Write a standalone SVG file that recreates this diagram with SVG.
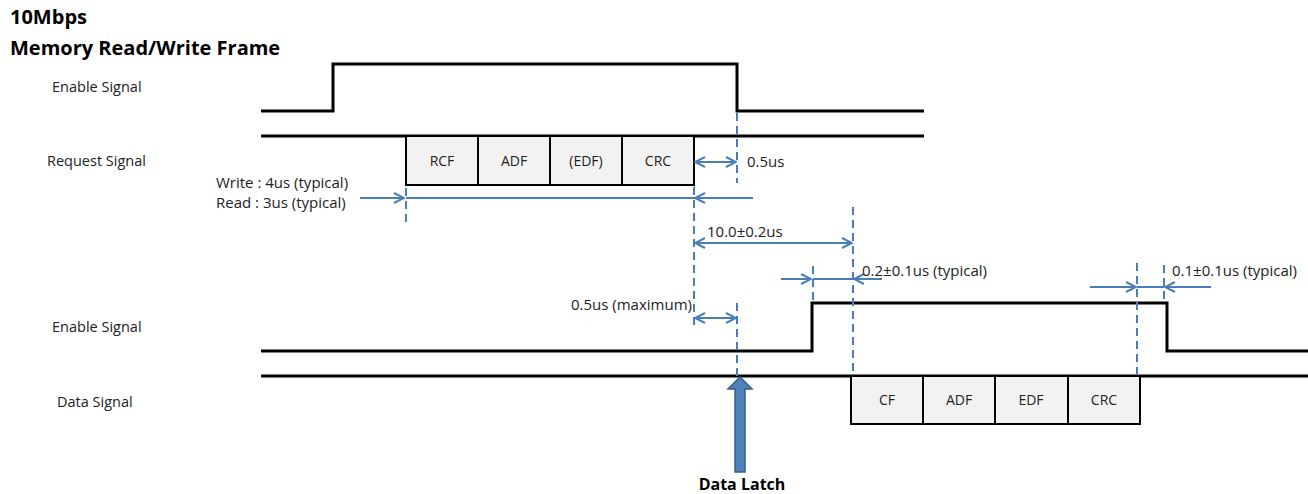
<svg xmlns="http://www.w3.org/2000/svg" width="1308" height="494" viewBox="0 0 1308 494">
<style>
.sig{fill:none;stroke:#000;stroke-width:3}
.box{fill:#f2f2f2;stroke:#000;stroke-width:2}
.dash{fill:none;stroke:#4a7ebb;stroke-width:2;stroke-dasharray:8 5}
.dim{fill:none;stroke:#4a7ebb;stroke-width:2}
.lbl{font-family:"Open Sans","Liberation Sans",sans-serif;font-size:14.5px;fill:#222}
.ann{font-family:"Open Sans","Liberation Sans",sans-serif;font-size:15px;fill:#222}
.bt{font-family:"Open Sans","Liberation Sans",sans-serif;font-size:14px;fill:#222;text-anchor:middle}
.ttl{font-family:"Open Sans","Liberation Sans",sans-serif;font-size:20px;font-weight:bold;fill:#000}
</style>
<defs>
<marker id="ah" viewBox="0 0 12 12" refX="11" refY="6" markerWidth="12" markerHeight="12" markerUnits="userSpaceOnUse" orient="auto-start-reverse">
<polyline points="1,1 11,6 1,11" fill="none" stroke="#4a7ebb" stroke-width="2"/>
</marker>
</defs>
<g id="titles">
<text class="ttl" x="10" y="24">10Mbps</text>
<text class="ttl" x="10" y="55">Memory Read/Write Frame</text>
</g>
<g id="labels">
<text class="lbl" x="52" y="92">Enable Signal</text>
<text class="lbl" x="47" y="166">Request Signal</text>
<text class="lbl" x="52" y="332">Enable Signal</text>
<text class="lbl" x="57" y="407">Data Signal</text>
</g>
<g id="enable1"><polyline class="sig" points="261,111 333,111 333,64 737,64 737,111 924,111"/></g>
<g id="request">
<line class="sig" x1="261" y1="136" x2="924" y2="136"/>
<rect class="box" x="406" y="136" width="72" height="49"/>
<rect class="box" x="478" y="136" width="72" height="49"/>
<rect class="box" x="550" y="136" width="72" height="49"/>
<rect class="box" x="622" y="136" width="72" height="49"/>
<text class="bt" x="442" y="166">RCF</text>
<text class="bt" x="514" y="166">ADF</text>
<text class="bt" x="586" y="166">(EDF)</text>
<text class="bt" x="658" y="166">CRC</text>
</g>
<g id="enable2"><polyline class="sig" points="261,351 812,351 812,303 1167,303 1167,351 1308,351"/></g>
<g id="data">
<line class="sig" x1="261" y1="376" x2="1308" y2="376"/>
<rect class="box" x="851" y="376" width="72" height="48"/>
<rect class="box" x="923" y="376" width="72" height="48"/>
<rect class="box" x="995" y="376" width="73" height="48"/>
<rect class="box" x="1068" y="376" width="72" height="48"/>
<text class="bt" x="887" y="405">CF</text>
<text class="bt" x="959" y="405">ADF</text>
<text class="bt" x="1031" y="405">EDF</text>
<text class="bt" x="1104" y="405">CRC</text>
</g>
<g id="connectors">
<line class="dash" x1="737" y1="113" x2="737" y2="183"/>
<line class="dim" x1="695" y1="162" x2="736" y2="162" marker-start="url(#ah)" marker-end="url(#ah)"/>
<line class="dash" x1="406" y1="188" x2="406" y2="222"/>
<line class="dim" x1="360" y1="198" x2="404" y2="198" marker-end="url(#ah)"/>
<line class="dim" x1="406" y1="198" x2="695" y2="198"/>
<line class="dim" x1="753" y1="198" x2="695" y2="198" marker-end="url(#ah)"/>
<line class="dash" x1="694" y1="187" x2="694" y2="325"/>
<line class="dim" x1="695" y1="243" x2="852" y2="243" marker-start="url(#ah)" marker-end="url(#ah)"/>
<line class="dash" x1="853" y1="207" x2="853" y2="376"/>
<line class="dim" x1="781" y1="279" x2="811" y2="279" marker-end="url(#ah)"/>
<line class="dash" x1="813" y1="266" x2="813" y2="302"/>
<line class="dim" x1="813" y1="279" x2="853" y2="279"/>
<line class="dim" x1="882" y1="279" x2="854" y2="279" marker-end="url(#ah)"/>
<line class="dim" x1="1090" y1="287" x2="1136" y2="287" marker-end="url(#ah)"/>
<line class="dash" x1="1137" y1="263" x2="1137" y2="374"/>
<line class="dim" x1="1137" y1="287" x2="1164" y2="287"/>
<line class="dash" x1="1164" y1="265" x2="1164" y2="305"/>
<line class="dim" x1="1211" y1="287" x2="1165" y2="287" marker-end="url(#ah)"/>
<line class="dim" x1="695" y1="318" x2="736" y2="318" marker-start="url(#ah)" marker-end="url(#ah)"/>
<line class="dash" x1="737" y1="303" x2="737" y2="376"/>
<polygon points="740,377 752,389 745,389 745,472 735,472 735,389 728,389" fill="#4f81bd" stroke="#385d8a" stroke-width="1.5"/>
</g>
<g id="annotations">
<text class="ann" x="747" y="167">0.5us</text>
<text class="ann" x="216" y="188">Write : 4us (typical)</text>
<text class="ann" x="216" y="208">Read : 3us (typical)</text>
<text class="ann" x="707" y="237">10.0±0.2us</text>
<text class="ann" x="862" y="276">0.2±0.1us (typical)</text>
<text class="ann" x="1172" y="276">0.1±0.1us (typical)</text>
<text class="ann" x="692" y="310" text-anchor="end">0.5us (maximum)</text>
<text class="ttl" x="742" y="490" text-anchor="middle" style="font-size:16px">Data Latch</text>
</g>
</svg>
